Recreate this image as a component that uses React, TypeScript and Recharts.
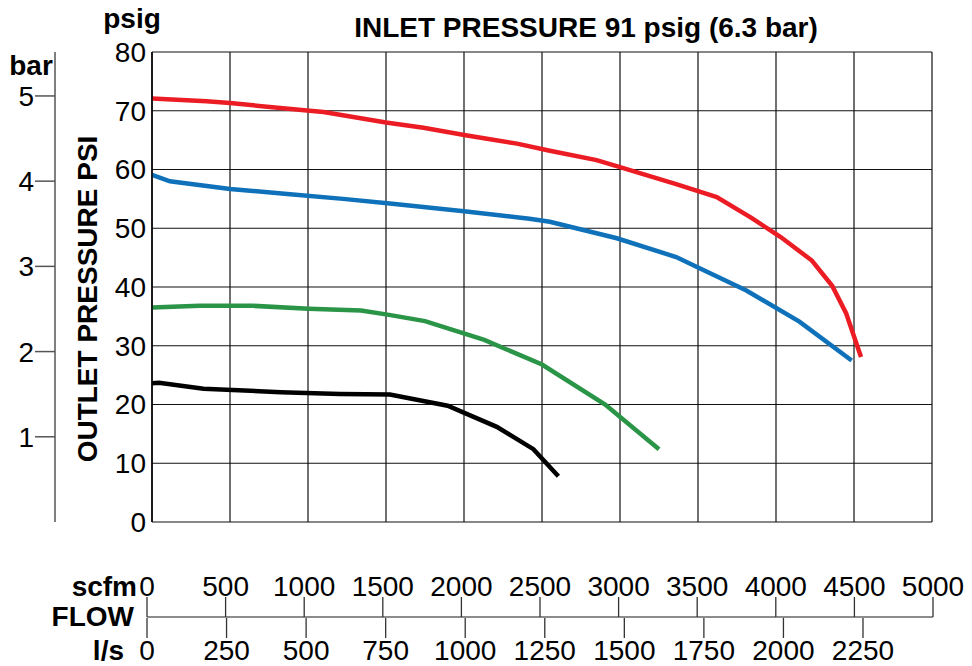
import React from "react";
import { LineChart, Line, XAxis, YAxis, CartesianGrid } from "recharts";

const FONT = '"Liberation Sans", Arial, Helvetica, sans-serif';

// Outlet pressure (psig) against flow (scfm)
const redCurve = [
  { scfm: 0, psi: 72.1 },
  { scfm: 350, psi: 71.6 },
  { scfm: 500, psi: 71.3 },
  { scfm: 1010, psi: 70.0 },
  { scfm: 1100, psi: 69.8 },
  { scfm: 1500, psi: 68.0 },
  { scfm: 1740, psi: 67.1 },
  { scfm: 2020, psi: 65.8 },
  { scfm: 2340, psi: 64.4 },
  { scfm: 2550, psi: 63.2 },
  { scfm: 2850, psi: 61.6 },
  { scfm: 3000, psi: 60.4 },
  { scfm: 3360, psi: 57.5 },
  { scfm: 3620, psi: 55.3 },
  { scfm: 3840, psi: 51.8 },
  { scfm: 4030, psi: 48.5 },
  { scfm: 4230, psi: 44.5 },
  { scfm: 4360, psi: 40.2 },
  { scfm: 4450, psi: 35.5 },
  { scfm: 4545, psi: 28.1 },
];

const blueCurve = [
  { scfm: 0, psi: 59.1 },
  { scfm: 115, psi: 58.0 },
  { scfm: 500, psi: 56.7 },
  { scfm: 885, psi: 55.8 },
  { scfm: 1225, psi: 55.0 },
  { scfm: 1525, psi: 54.2 },
  { scfm: 2000, psi: 52.9 },
  { scfm: 2420, psi: 51.6 },
  { scfm: 2550, psi: 51.1 },
  { scfm: 2980, psi: 48.3 },
  { scfm: 3360, psi: 45.1 },
  { scfm: 3470, psi: 43.7 },
  { scfm: 3810, psi: 39.4 },
  { scfm: 4150, psi: 34.1 },
  { scfm: 4485, psi: 27.5 },
];

const greenCurve = [
  { scfm: 0, psi: 36.5 },
  { scfm: 305, psi: 36.8 },
  { scfm: 645, psi: 36.8 },
  { scfm: 1005, psi: 36.3 },
  { scfm: 1340, psi: 36.0 },
  { scfm: 1510, psi: 35.3 },
  { scfm: 1750, psi: 34.2 },
  { scfm: 2130, psi: 31.0 },
  { scfm: 2500, psi: 26.8 },
  { scfm: 2905, psi: 20.0 },
  { scfm: 3250, psi: 12.4 },
];

const blackCurve = [
  { scfm: 0, psi: 23.6 },
  { scfm: 45, psi: 23.7 },
  { scfm: 330, psi: 22.7 },
  { scfm: 825, psi: 22.1 },
  { scfm: 1205, psi: 21.8 },
  { scfm: 1525, psi: 21.7 },
  { scfm: 1895, psi: 19.8 },
  { scfm: 2210, psi: 16.2 },
  { scfm: 2445, psi: 12.4 },
  { scfm: 2605, psi: 7.8 },
];

const scfmTicks = [0, 500, 1000, 1500, 2000, 2500, 3000, 3500, 4000, 4500, 5000];
const lpsTicks = [0, 250, 500, 750, 1000, 1250, 1500, 1750, 2000, 2250];
const psiTicks = [0, 10, 20, 30, 40, 50, 60, 70, 80];
const barTicks = [1, 2, 3, 4, 5];

const PSI_PER_BAR = 14.5038;
// l/s value where the drawn FLOW line stops (the printed l/s scale is a bit squeezed)
const LPS_AXIS_END = 2470;

// the flow scale has no series; the tick values give it rows so the axes get built
const flowRows = scfmTicks.map((scfm, i) => ({ scfm, lps: lpsTicks[i] }));

const tickStyle = { fontSize: 28, fill: "#000", fontFamily: FONT };

export default function App() {
  return (
    <div style={{ position: "absolute", left: 0, top: 0, width: 972, height: 666, background: "#fff" }}>
      {/* main pressure / flow grid */}
      <div style={{ position: "absolute", left: 0, top: 0 }}>
        <LineChart width={972} height={540} margin={{ top: 52, right: 40, bottom: 18, left: 0 }}>
          <CartesianGrid yAxisId="psig" stroke="#111" strokeWidth={1.2} />
          <XAxis
            type="number"
            dataKey="scfm"
            domain={[0, 5000]}
            ticks={scfmTicks}
            allowDataOverflow
            hide
          />
          <YAxis
            yAxisId="psig"
            type="number"
            domain={[0, 80]}
            ticks={psiTicks}
            interval={0}
            width={97}
            axisLine={{ stroke: "#000", strokeWidth: 1.5 }}
            tickLine={false}
            tickSize={4}
            tickMargin={2}
            tick={tickStyle}
            allowDataOverflow
          />
          <YAxis
            yAxisId="scaleBar"
            type="number"
            domain={[0, 80 / PSI_PER_BAR]}
            ticks={barTicks}
            interval={0}
            width={55}
            axisLine={{ stroke: "#555", strokeWidth: 1.5 }}
            tickLine={{ stroke: "#555", strokeWidth: 1.5 }}
            tickSize={20}
            tickMargin={1}
            tick={tickStyle}
            allowDataOverflow
          />
          <Line yAxisId="psig" data={redCurve} dataKey="psi" type="linear" stroke="#ec1c24" strokeWidth={4.5} dot={false} isAnimationActive={false} />
          <Line yAxisId="psig" data={blueCurve} dataKey="psi" type="linear" stroke="#0f71b9" strokeWidth={4.5} dot={false} isAnimationActive={false} />
          <Line yAxisId="psig" data={greenCurve} dataKey="psi" type="linear" stroke="#2a9447" strokeWidth={4.5} dot={false} isAnimationActive={false} />
          <Line yAxisId="psig" data={blackCurve} dataKey="psi" type="linear" stroke="#000" strokeWidth={4.5} dot={false} isAnimationActive={false} />
        </LineChart>
      </div>

      {/* FLOW scale: scfm above the line, l/s below */}
      <div style={{ position: "absolute", left: 0, top: 560 }}>
        <LineChart width={972} height={106} margin={{ top: 0, right: 39, bottom: 8, left: 147 }} data={flowRows}>
          <XAxis
            xAxisId="scfm"
            orientation="top"
            type="number"
            dataKey="scfm"
            domain={[0, 5000]}
            ticks={scfmTicks}
            interval={0}
            height={57}
            tickSize={20}
            tickMargin={1}
            axisLine={{ stroke: "#666", strokeWidth: 1.5 }}
            tickLine={{ stroke: "#333", strokeWidth: 1.3 }}
            tick={tickStyle}
            allowDataOverflow
          />
          <XAxis
            xAxisId="lps"
            orientation="bottom"
            type="number"
            dataKey="lps"
            domain={[0, LPS_AXIS_END]}
            ticks={lpsTicks}
            interval={0}
            height={40}
            tickSize={20}
            tickMargin={2}
            axisLine={false}
            tickLine={{ stroke: "#333", strokeWidth: 1.3 }}
            tick={tickStyle}
            allowDataOverflow
          />
          <YAxis hide domain={[0, 1]} />
        </LineChart>
      </div>

      {/* titles and axis captions */}
      <svg
        width={972}
        height={666}
        style={{ position: "absolute", left: 0, top: 0, pointerEvents: "none" }}
        fontFamily={FONT}
        fontWeight="bold"
        fontSize={28}
        fill="#000"
      >
        <text x={586} y={37} textAnchor="middle">INLET PRESSURE 91 psig (6.3 bar)</text>
        <text x={132} y={28} textAnchor="middle">psig</text>
        <text x={31} y={75} textAnchor="middle">bar</text>
        <text transform="translate(97,299) rotate(-90)" textAnchor="middle">OUTLET PRESSURE PSI</text>
        <text x={137} y={596} textAnchor="end">scfm</text>
        <text x={134} y={626} textAnchor="end">FLOW</text>
        <text x={124} y={660} textAnchor="end">l/s</text>
      </svg>
    </div>
  );
}
